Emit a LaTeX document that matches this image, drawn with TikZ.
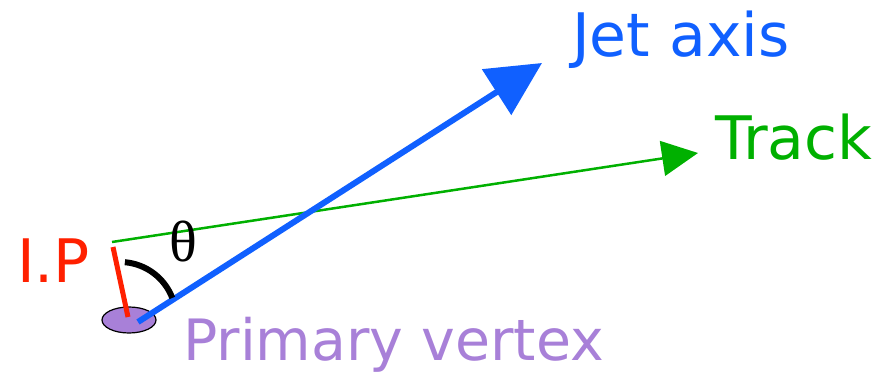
\documentclass[tikz,border=0pt]{standalone}
\usepackage{fontspec}
\setmainfont{DejaVu Sans}
\newfontfamily\thetafont{Liberation Serif}
\usetikzlibrary{arrows.meta,shapes.geometric}
\definecolor{jetblue}{RGB}{16,96,255}
\definecolor{trkgreen}{RGB}{0,176,0}
\definecolor{ipred}{RGB}{255,32,0}
\definecolor{pvpurple}{RGB}{168,128,216}
\tikzset{
  lbl/.style={inner sep=0pt, anchor=base west, font=\fontsize{60}{60}\selectfont},
}
\begin{document}
\begin{tikzpicture}[x=1pt,y=-1pt]
\useasboundingbox (0,0) rectangle (880,374);
% vertex
\node[ellipse, draw=black, line width=1.2pt, fill=pvpurple, minimum width=54pt, minimum height=26pt, inner sep=0pt] (vtx) at (129,320) {};
\coordinate (pv) at (138,322);
\coordinate (trkstart) at (112,242);
\coordinate (iptop) at (113,247);
\coordinate (ipbot) at (128,317);
\coordinate (jettip) at (542,63);
\coordinate (trktip) at (698,153);
% IP
\draw[ipred, line width=5pt] (iptop) -- (ipbot);
% track
\draw[trkgreen, line width=2.5pt, -{Triangle[length=36pt,width=35pt]}] (trkstart) -- (trktip);
% jet axis
\draw[jetblue, line width=6pt, -{Triangle[length=54pt,width=53pt]}] (pv) -- (jettip);
% angle arc
\draw[black, line width=6pt] (120,318) ++(-85:56) arc[start angle=-85, end angle=-21, radius=56];
% labels
\node[lbl, text=jetblue] (jetlbl) at (572,57) {Jet axis};
\node[lbl, text=trkgreen] (trklbl) at (715,160) {Track};
\node[lbl, text=ipred] (iplbl) at (17,282) {I.P};
\node[lbl, text=pvpurple, font=\fontsize{57}{57}\selectfont] (pvlbl) at (183,360) {Primary vertex};
\node[inner sep=0pt, font=\thetafont\fontsize{58}{58}\selectfont] (theta) at (183,242) {θ};
\end{tikzpicture}
\end{document}
